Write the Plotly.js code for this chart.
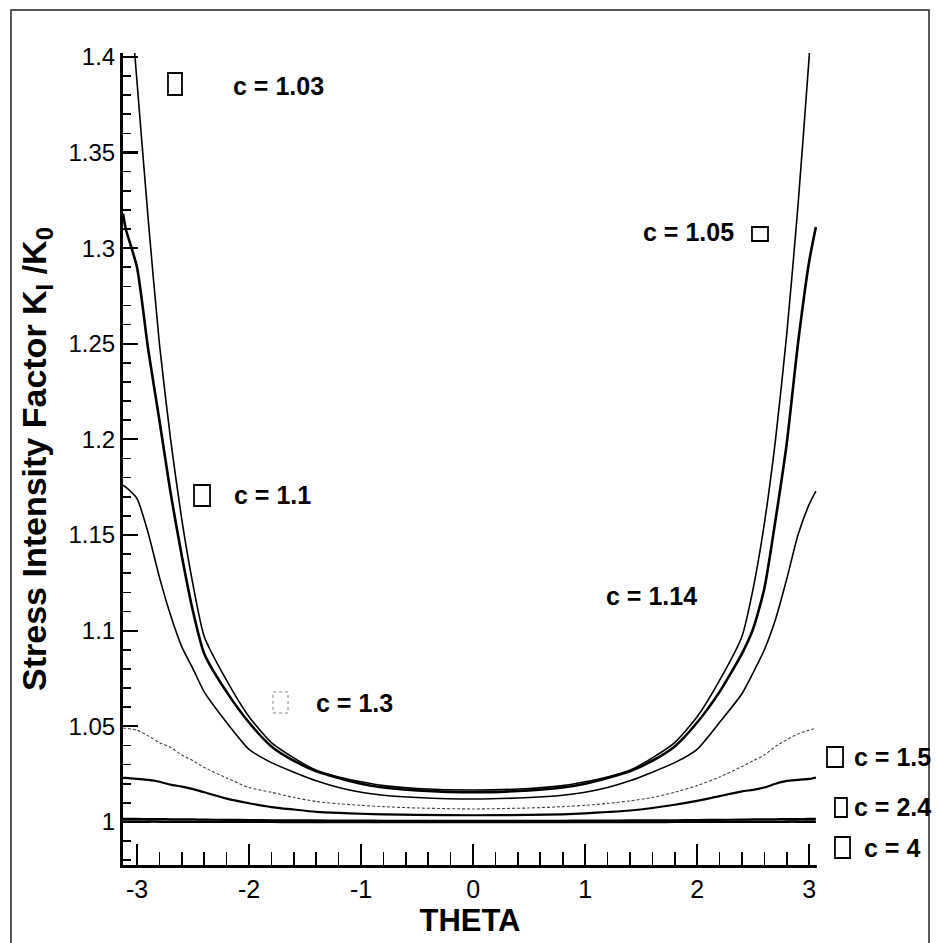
<!DOCTYPE html>
<html>
<head>
<meta charset="utf-8">
<script src="https://cdn.plot.ly/plotly-3.0.1.min.js"></script>
<style>html,body{margin:0;padding:0;background:#fff;}#chart{width:938px;height:943px;}</style>
</head>
<body>
<div id="chart"></div>
<script>
// ---- data ----
const theta = [-3.125,-3.1,-3.0,-2.9,-2.8,-2.7,-2.6,-2.5,-2.4,-2.2,-2.0,-1.8,-1.6,-1.4,-1.2,-1.0,-0.8,-0.5,0,0.5,0.8,1.0,1.2,1.4,1.6,1.8,2.0,2.2,2.4,2.5,2.6,2.7,2.8,2.9,3.0,3.06];
const k_c103 = [1.48,1.46,1.387,1.315,1.250,1.200,1.158,1.124,1.097,1.074,1.055,1.0415,1.0335,1.027,1.0235,1.021,1.019,1.0175,1.0167,1.0175,1.019,1.021,1.0235,1.027,1.0335,1.0415,1.055,1.074,1.097,1.122,1.156,1.200,1.255,1.322,1.40,1.45];
const k_c105 = [1.318,1.310,1.290,1.247,1.21,1.172,1.139,1.110,1.088,1.068,1.052,1.0395,1.032,1.0265,1.023,1.020,1.018,1.0165,1.0155,1.0165,1.018,1.020,1.023,1.0265,1.032,1.0395,1.052,1.068,1.088,1.101,1.122,1.158,1.198,1.250,1.293,1.311];
const k_c110 = [1.176,1.175,1.169,1.151,1.128,1.108,1.0915,1.080,1.068,1.052,1.038,1.031,1.026,1.0215,1.018,1.0155,1.014,1.0128,1.012,1.0128,1.014,1.0155,1.018,1.0215,1.026,1.031,1.038,1.052,1.067,1.078,1.090,1.106,1.127,1.150,1.166,1.173];
const k_c130 = [1.049,1.049,1.048,1.045,1.0415,1.039,1.035,1.032,1.0285,1.023,1.018,1.0155,1.0128,1.0107,1.0095,1.0087,1.008,1.0073,1.0068,1.0073,1.008,1.0087,1.0097,1.011,1.0128,1.0155,1.019,1.0235,1.029,1.032,1.035,1.0395,1.043,1.046,1.048,1.049];
const k_c150 = [1.023,1.023,1.0225,1.022,1.021,1.0195,1.0185,1.0172,1.0155,1.0122,1.0098,1.0078,1.0065,1.0053,1.0047,1.0043,1.004,1.0037,1.0035,1.0037,1.004,1.0045,1.0052,1.006,1.0073,1.009,1.011,1.0135,1.016,1.0168,1.018,1.020,1.0215,1.022,1.0225,1.0232];
const k_c240 = [1.0016,1.0016,1.0016,1.0015,1.0015,1.0014,1.0014,1.0013,1.0012,1.0011,1.001,1.0009,1.0008,1.0008,1.0007,1.0007,1.0006,1.0006,1.0006,1.0006,1.0006,1.0007,1.0007,1.0008,1.0008,1.0009,1.001,1.0011,1.0012,1.0013,1.0014,1.0014,1.0015,1.0015,1.0016,1.0016];
const k_c400 = [1.0002,1.0002,1.0002,1.0002,1.0002,1.0001,1.0001,1.0001,1.0001,1.0001,1.0001,1.0001,1.0,1.0,1.0,1.0,1.0,1.0,1.0,1.0,1.0,1.0,1.0,1.0,1.0,1.0001,1.0001,1.0001,1.0001,1.0001,1.0001,1.0001,1.0002,1.0002,1.0002,1.0002];
const seriesNames = ["c = 1.03","c = 1.05","c = 1.1","c = 1.3","c = 1.5","c = 2.4","c = 4"];
const labelTexts = ["c = 1.03","c = 1.05","c = 1.1","c = 1.14","c = 1.3","c = 1.5","c = 2.4","c = 4"];
const xTickVals = [-3,-2,-1,0,1,2,3];
const xTickText = ["-3","-2","-1","0","1","2","3"];

// ---- styling ----
const FN = "'Liberation Sans Narrow', 'Arial Narrow', 'Liberation Sans', Arial, sans-serif";
const ySeries = [k_c103,k_c105,k_c110,k_c130,k_c150,k_c240,k_c400];
const lineStyles = [
  {width:1.6, color:'#000'},
  {width:2.6, color:'#000'},
  {width:1.6, color:'#000'},
  {width:1.1, color:'#444', dash:'3px,2px'},
  {width:2.2, color:'#000'},
  {width:2.2, color:'#000'},
  {width:2.6, color:'#000'}
];
const traces = ySeries.map((ys,i)=>({
  type:'scatter', mode:'lines', x:theta, y:ys, name:seriesNames[i],
  line:Object.assign({shape:'spline', smoothing:0.6}, lineStyles[i]),
  hoverinfo:'x+y+name'
}));

// label positions (paper coords) and anchors
const labelPos = [
  [0.157,0.959,'left'],[0.748,0.780,'left'],[0.1585,0.456,'left'],[0.6945,0.331,'left'],
  [0.2767,0.1995,'left'],[1.1657,0.133,'right'],[1.1657,0.0714,'right'],[1.1499,0.0209,'right']
];
const annotations = labelTexts.map((t,i)=>({
  xref:'paper', yref:'paper', x:labelPos[i][0], y:labelPos[i][1],
  xanchor:labelPos[i][2], yanchor:'middle', showarrow:false, text:t, borderpad:0,
  font:{family:FN, size:25, color:'#000', weight:'bold'}
}));
const boxes = [
  [0.0648,0.0850,0.9483,0.9754,'#000',null],
  [0.9063,0.9294,0.7685,0.7857,'#000',null],
  [0.1023,0.1254,0.4421,0.4680,'#000',null],
  [0.2161,0.2378,0.1872,0.2131,'#888','dot'],
  [1.0144,1.0375,0.1207,0.1453,'#000',null],
  [1.0259,1.0432,0.0591,0.0825,'#000',null],
  [1.0259,1.0476,0.0086,0.0345,'#000',null]
];
const shapes = boxes.map(b=>({
  type:'rect', xref:'paper', yref:'paper', x0:b[0], x1:b[1], y0:b[2], y1:b[3],
  line:{color:b[4], width:b[5]?1:1.8, dash:b[5]||'solid'}, fillcolor:'rgba(0,0,0,0)'
}));
// outer frame of the figure
shapes.push({type:'rect', xref:'paper', yref:'paper', x0:-0.1614, x1:1.1614, y0:-0.11, y1:1.053,
  line:{color:'#222', width:1.5}, fillcolor:'rgba(0,0,0,0)'});

const layout = {
  width:938, height:943, autosize:false,
  margin:{l:123, r:121, t:53, b:78},
  paper_bgcolor:'#fff', plot_bgcolor:'#fff',
  showlegend:false,
  font:{family:FN, color:'#000'},
  xaxis:{
    range:[-3.125,3.07], tickmode:'array', tickvals:xTickVals, ticktext:xTickText,
    ticks:'inside', ticklen:21, tickwidth:2.2, tickcolor:'#000',
    minor:{dtick:0.2, tick0:0, ticks:'inside', ticklen:13, tickwidth:1.6, tickcolor:'#000', showgrid:false},
    showline:true, linewidth:3, linecolor:'#000', mirror:false,
    showgrid:false, zeroline:false,
    tickfont:{family:FN, size:25, color:'#000'},
    title:{text:'THETA', font:{family:FN, size:31, color:'#000', weight:'bold'}, standoff:0}
  },
  yaxis:{
    range:[0.9775,1.402], dtick:0.05, tick0:1,
    ticks:'inside', ticklen:15, tickwidth:2.2, tickcolor:'#000',
    minor:{dtick:0.01, tick0:1, ticks:'inside', ticklen:8, tickwidth:1.6, tickcolor:'#000', showgrid:false},
    showline:true, linewidth:3, linecolor:'#000', mirror:false,
    showgrid:false, zeroline:false,
    tickfont:{family:FN, size:24, color:'#000'},
    title:{text:'Stress Intensity Factor K<sub>I</sub> /K<sub>0</sub>', font:{family:FN, size:34, color:'#000', weight:'bold'}, standoff:12}
  },
  annotations:annotations,
  shapes:shapes
};
Plotly.newPlot('chart', traces, layout, {displayModeBar:false, staticPlot:true});
</script>
</body>
</html>
